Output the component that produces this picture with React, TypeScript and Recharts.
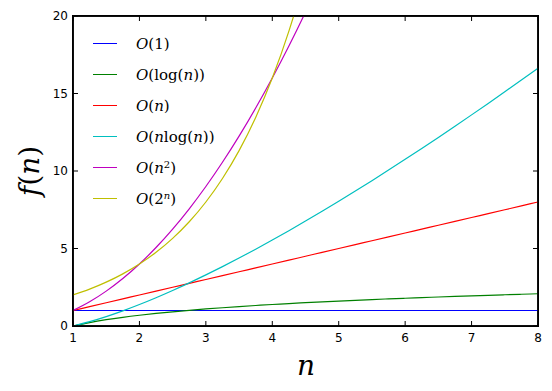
import React from 'react';
import { LineChart, Line, XAxis, YAxis, ReferenceArea, ReferenceLine } from 'recharts';

const nValues = [1, 1.25, 1.5, 1.75, 2, 2.25, 2.5, 2.75, 3, 3.25, 3.5, 3.75, 4, 4.25, 4.5, 4.75, 5, 5.25, 5.5, 5.75, 6, 6.25, 6.5, 6.75, 7, 7.25, 7.5, 7.75, 8];
const constValues = [1, 1, 1, 1, 1, 1, 1, 1, 1, 1, 1, 1, 1, 1, 1, 1, 1, 1, 1, 1, 1, 1, 1, 1, 1, 1, 1, 1, 1];
const logValues = [0, 0.2231, 0.4055, 0.5596, 0.6931, 0.8109, 0.9163, 1.0116, 1.0986, 1.1787, 1.2528, 1.3218, 1.3863, 1.4469, 1.5041, 1.5581, 1.6094, 1.6582, 1.7047, 1.7492, 1.7918, 1.8326, 1.8718, 1.9095, 1.9459, 1.981, 2.0149, 2.0477, 2.0794];
const linearValues = [1, 1.25, 1.5, 1.75, 2, 2.25, 2.5, 2.75, 3, 3.25, 3.5, 3.75, 4, 4.25, 4.5, 4.75, 5, 5.25, 5.5, 5.75, 6, 6.25, 6.5, 6.75, 7, 7.25, 7.5, 7.75, 8];
const nlognValues = [0, 0.279, 0.608, 0.979, 1.386, 1.825, 2.291, 2.782, 3.296, 3.831, 4.385, 4.957, 5.545, 6.149, 6.768, 7.401, 8.047, 8.706, 9.376, 10.058, 10.751, 11.454, 12.167, 12.889, 13.621, 14.362, 15.112, 15.87, 16.636];
const squareValues: (number | null)[] = [1, 1.5625, 2.25, 3.0625, 4, 5.0625, 6.25, 7.5625, 9, 10.5625, 12.25, 14.0625, 16, 18.0625, 20.25, 22.5625, null, null, null, null, null, null, null, null, null, null, null, null, null];
const expValues: (number | null)[] = [2, 2.378, 2.828, 3.364, 4, 4.757, 5.657, 6.727, 8, 9.514, 11.314, 13.454, 16, 19.027, 22.627, 26.909, null, null, null, null, null, null, null, null, null, null, null, null, null];

const xTicks = [1, 2, 3, 4, 5, 6, 7, 8];
const yTicks = [0, 5, 10, 15, 20];

const data = nValues.map((n, i) => ({
  n,
  c: constValues[i],
  lg: logValues[i],
  lin: linearValues[i],
  nlg: nlognValues[i],
  sq: squareValues[i],
  ex: expValues[i],
}));

const serif = '"DejaVu Serif", "Liberation Serif", "Times New Roman", serif';
const I = (s: string) => <span style={{ fontStyle: 'italic' }}>{s}</span>;
const supStyle: React.CSSProperties = { fontSize: 10, verticalAlign: 'top', position: 'relative', top: -3 };

const legendItems: { color: string; label: React.ReactNode }[] = [
  { color: '#0000ff', label: <>{I('O')}(1)</> },
  { color: '#008000', label: <>{I('O')}(log({I('n')}))</> },
  { color: '#ff0000', label: <>{I('O')}({I('n')})</> },
  { color: '#00bfbf', label: <>{I('O')}({I('n')}log({I('n')}))</> },
  { color: '#bf00bf', label: <>{I('O')}({I('n')}<sup style={supStyle}>2</sup>)</> },
  { color: '#bfbf00', label: <>{I('O')}(2<sup style={supStyle}>{I('n')}</sup>)</> },
];

const tickStyle = { fontFamily: '"DejaVu Sans", sans-serif', fontSize: 12, fill: '#000' };
const TICK_LEN = 5;

const TopTick = (p: any) => {
  const top = Math.min(p.y1, p.y2);
  return <line x1={p.x1} x2={p.x1} y1={top} y2={top + TICK_LEN} stroke="#000" strokeWidth={1} />;
};
const RightTick = (p: any) => {
  const right = Math.max(p.x1, p.x2);
  return <line x1={right} x2={right - TICK_LEN} y1={p.y1} y2={p.y1} stroke="#000" strokeWidth={1} />;
};

export default function App() {
  return (
    <div style={{ position: 'absolute', left: 0, top: 0, width: 552, height: 391, background: '#fff' }}>
      <LineChart width={552} height={391} data={data} margin={{ top: 16, right: 14, left: 13, bottom: 35 }}>
        <ReferenceArea x1={1} x2={8} y1={0} y2={20} fill="none" stroke="#000" strokeWidth={1.5} strokeOpacity={1} ifOverflow="visible" />
        <XAxis dataKey="n" type="number" domain={[1, 8]} ticks={xTicks} allowDataOverflow
          height={30} stroke="#000" strokeWidth={1.5} tickSize={-TICK_LEN} tickMargin={12}
          tick={tickStyle} tickLine={{ stroke: '#000', strokeWidth: 1 }} />
        <YAxis type="number" domain={[0, 20]} ticks={yTicks} allowDataOverflow
          width={60} stroke="#000" strokeWidth={1.5} tickSize={-TICK_LEN} tickMargin={10}
          tick={tickStyle} tickLine={{ stroke: '#000', strokeWidth: 1 }} axisLine={{ stroke: '#000', strokeWidth: 1.5 }} />
        <Line dataKey="c" stroke="#0000ff" strokeWidth={1.2} dot={false} isAnimationActive={false} type="monotone" />
        <Line dataKey="lg" stroke="#008000" strokeWidth={1.2} dot={false} isAnimationActive={false} type="monotone" />
        <Line dataKey="lin" stroke="#ff0000" strokeWidth={1.2} dot={false} isAnimationActive={false} type="monotone" />
        <Line dataKey="nlg" stroke="#00bfbf" strokeWidth={1.2} dot={false} isAnimationActive={false} type="monotone" />
        <Line dataKey="sq" stroke="#bf00bf" strokeWidth={1.2} dot={false} isAnimationActive={false} type="monotone" />
        <Line dataKey="ex" stroke="#bfbf00" strokeWidth={1.2} dot={false} isAnimationActive={false} type="monotone" />
        <ReferenceLine y={20} stroke="#000" strokeWidth={1.5} ifOverflow="visible" />
        <ReferenceLine x={8} stroke="#000" strokeWidth={1.5} ifOverflow="visible" />
        {xTicks.map((t) => (
          <ReferenceLine key={`xt${t}`} x={t} shape={TopTick} ifOverflow="visible" />
        ))}
        {yTicks.map((t) => (
          <ReferenceLine key={`yt${t}`} y={t} shape={RightTick} ifOverflow="visible" />
        ))}
      </LineChart>
      {/* plot frame fallback (chart chrome, not data) */}
      <div style={{ position: 'absolute', left: 72, top: 15, width: 467, height: 312, boxSizing: 'border-box', border: '1.5px solid #000', pointerEvents: 'none' }} />
      <div style={{ position: 'absolute', left: 93, top: 28, fontFamily: serif, fontSize: 15, color: '#000' }}>
        {legendItems.map((it, i) => (
          <div key={i} style={{ display: 'flex', alignItems: 'center', height: 31 }}>
            <div style={{ width: 24, height: 0, borderTop: `1.5px solid ${it.color}`, marginRight: 19 }} />
            <div style={{ whiteSpace: 'nowrap', lineHeight: '20px' }}>{it.label}</div>
          </div>
        ))}
      </div>
      <div style={{ position: 'absolute', left: 30, top: 171, transform: 'translate(-50%, -50%) rotate(-90deg)', fontFamily: serif, fontSize: 28, whiteSpace: 'nowrap', lineHeight: 1 }}>
        <span style={{ fontStyle: 'italic' }}>f</span>(<span style={{ fontStyle: 'italic' }}>n</span>)
      </div>
      <div style={{ position: 'absolute', left: 306, top: 366, transform: 'translate(-50%, -50%)', fontFamily: serif, fontSize: 28, fontStyle: 'italic', lineHeight: 1 }}>
        n
      </div>
    </div>
  );
}
